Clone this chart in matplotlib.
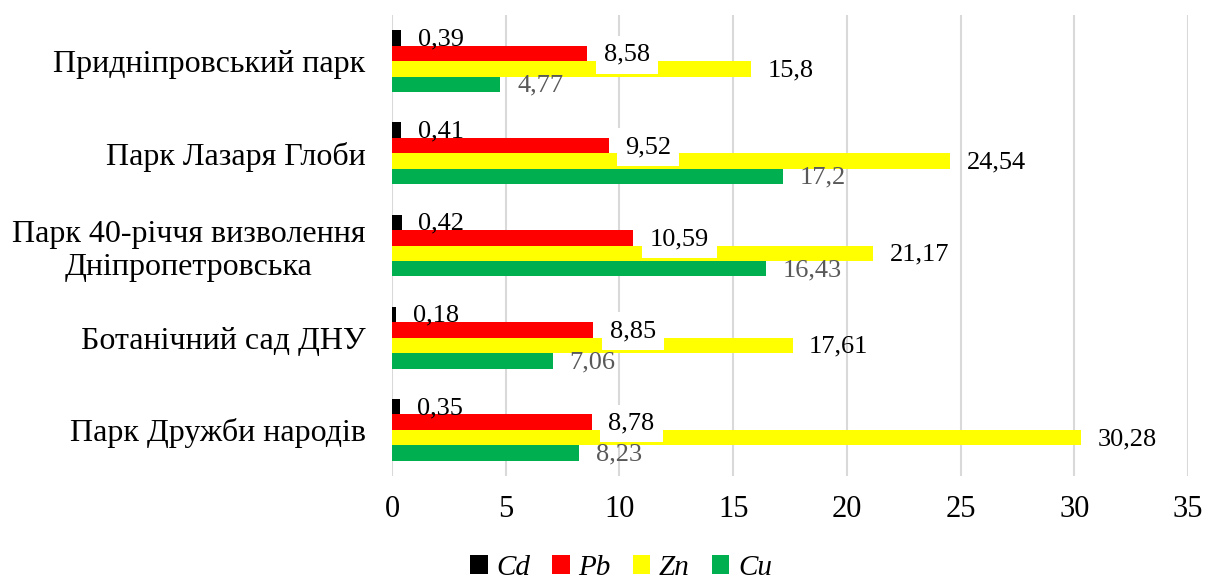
import matplotlib
matplotlib.use("Agg")
import matplotlib.pyplot as plt
from matplotlib.patches import Patch
import numpy as np

plt.rcParams['font.family'] = ['Liberation Serif', 'DejaVu Serif']

categories = ["Придніпровський парк", "Парк Лазаря Глоби",
              "Парк 40-річчя визволення\nДніпропетровська",
              "Ботанічний сад ДНУ", "Парк Дружби народів"]
series_names = ["Cd", "Pb", "Zn", "Cu"]
cd = [0.39, 0.41, 0.42, 0.18, 0.35]
pb = [8.58, 9.52, 10.59, 8.85, 8.78]
zn = [15.8, 24.54, 21.17, 17.61, 30.28]
cu = [4.77, 17.2, 16.43, 7.06, 8.23]
labels_cd = ["0,39", "0,41", "0,42", "0,18", "0,35"]
labels_pb = ["8,58", "9,52", "10,59", "8,85", "8,78"]
labels_zn = ["15,8", "24,54", "21,17", "17,61", "30,28"]
labels_cu = ["4,77", "17,2", "16,43", "7,06", "8,23"]
xticks = [0, 5, 10, 15, 20, 25, 30, 35]

series = [cd, pb, zn, cu]
series_labels = [labels_cd, labels_pb, labels_zn, labels_cu]
colors = ["#000000", "#ff0000", "#ffff00", "#00b050"]
label_colors = ["#000000", "#000000", "#000000", "#595959"]

W, H = 1211, 583
fig = plt.figure(figsize=(W / 100, H / 100), dpi=100)
ax = fig.add_axes([392 / W, 1 - 476 / H, (1188 - 392) / W, (476 - 15) / H])

n = len(categories)
ypos = np.arange(n)
h = 0.67 / 4
for j, (vals, labs) in enumerate(zip(series, series_labels)):
    yy = ypos + (j - 1.5) * h
    ax.barh(yy, vals, height=h, color=colors[j], zorder=2)
    for y, v, lab in zip(yy, vals, labs):
        kw = {}
        if j == 1:
            kw['bbox'] = dict(boxstyle='square,pad=0.3', fc='white', ec='none')
        ax.annotate(lab, xy=(v, y), xytext=(12, -1), textcoords='offset points',
                    ha='left', va='center', fontsize=19, color=label_colors[j],
                    zorder=4 if j == 1 else 3, **kw)

ax.set_xlim(0, 35)
ax.set_ylim(n - 0.5, -0.5)
ax.set_xticks(xticks)
ax.set_xticklabels([str(t) for t in xticks], fontsize=22)
ax.set_yticks(ypos)
ax.set_yticklabels(categories, fontsize=23, ha='right', multialignment='center')
ax.tick_params(axis='y', length=0, pad=19)
ax.tick_params(axis='x', length=0, pad=14)
ax.grid(axis='x', color='#d9d9d9', linewidth=1.5, zorder=0)
for s in ax.spines.values():
    s.set_visible(False)

handles = [Patch(facecolor=c, edgecolor='none') for c in colors]
fig.legend(handles, series_names, loc='center', bbox_to_anchor=(621 / W, 1 - 568 / H),
           ncol=4, frameon=False, prop={'style': 'italic', 'size': 21},
           handlelength=0.6, handleheight=0.6, handletextpad=0.3, columnspacing=0.75,
           borderpad=0.1)

fig.savefig("out.png", dpi=100)
